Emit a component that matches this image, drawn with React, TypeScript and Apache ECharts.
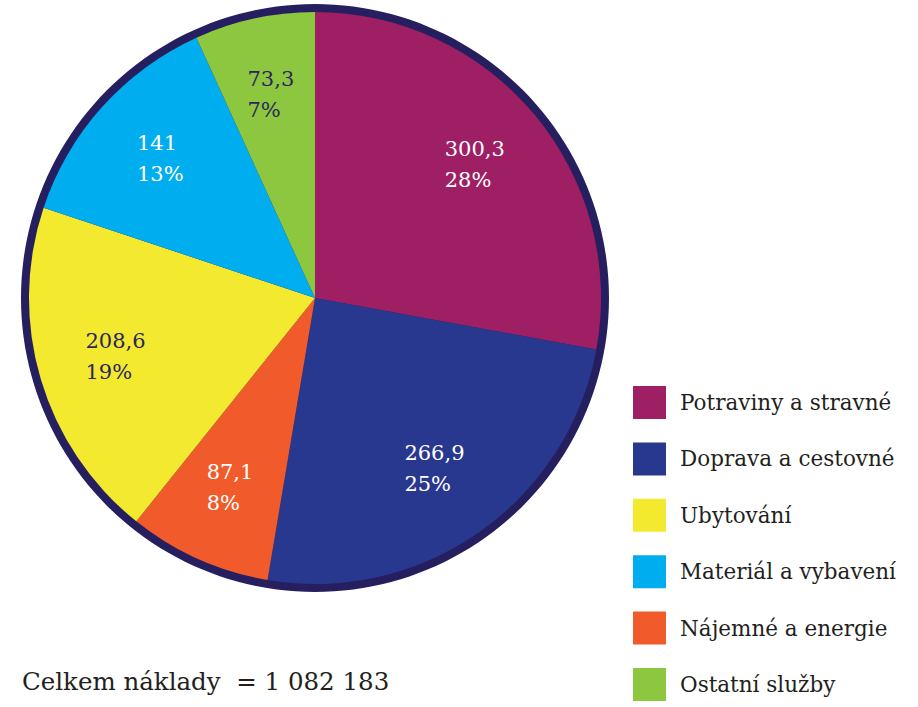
import React, { useEffect, useRef } from "react";
import * as echarts from "echarts";

const categories = [
  "Potraviny a stravné",
  "Doprava a cestovné",
  "Nájemné a energie",
  "Ubytování",
  "Materiál a vybavení",
  "Ostatní služby",
];
const values = [300.3, 266.9, 87.1, 208.6, 141, 73.3];
const colors = ["#9e1f63", "#29388f", "#f15a2a", "#f3ea2f", "#00aeef", "#8dc63f"];
const darkLabel = [false, false, false, true, false, true];
const legendOrder = [
  "Potraviny a stravné",
  "Doprava a cestovné",
  "Ubytování",
  "Materiál a vybavení",
  "Nájemné a energie",
  "Ostatní služby",
];
const totalText = "Celkem náklady  = 1 082 183";

const FONT = "DejaVu Serif";

export default function App() {
  const ref = useRef<HTMLDivElement>(null);
  useEffect(() => {
    if (!ref.current) return;
    const chart = echarts.init(ref.current, null, { renderer: "svg" });
    const center = [315, 298];
    const mainData = categories.map((name, i) => ({
      name,
      value: values[i],
      itemStyle: { color: colors[i] },
    }));
    const labelData = categories.map((name, i) => ({
      name,
      value: values[i],
      itemStyle: { color: "rgba(0,0,0,0)" },
    }));
    chart.setOption({
      animation: false,
      backgroundColor: "#ffffff",
      title: {
        text: totalText,
        left: 17,
        top: 664,
        textStyle: {
          fontFamily: FONT,
          fontWeight: "normal",
          fontSize: 24.5,
          color: "#231f20",
        },
      },
      legend: {
        orient: "vertical",
        left: 633,
        top: 386,
        padding: 0,
        itemWidth: 33,
        itemHeight: 33,
        itemGap: 23.4,
        icon: "rect",
        data: legendOrder,
        selectedMode: false,
        textStyle: {
          fontFamily: FONT,
          fontSize: 21.5,
          color: "#231f20",
          padding: [0, 0, 0, 9],
        },
      },
      series: [
        {
          type: "pie",
          silent: true,
          center,
          radius: 294,
          label: { show: false },
          labelLine: { show: false },
          itemStyle: { color: "#251f5f", borderWidth: 0 },
          data: [{ value: 1, name: "__border" }],
        },
        {
          type: "pie",
          center,
          radius: 286,
          startAngle: 90,
          clockwise: true,
          label: { show: false },
          labelLine: { show: false },
          itemStyle: { borderWidth: 0 },
          emphasis: { disabled: true },
          data: mainData,
        },
        {
          type: "pie",
          silent: true,
          center,
          radius: [124, 286],
          startAngle: 90,
          clockwise: true,
          labelLine: { show: false },
          itemStyle: { borderWidth: 0 },
          emphasis: { disabled: true },
          label: {
            show: true,
            position: "inside",
            formatter: (p: any) => {
              const s = darkLabel[p.dataIndex] ? "d" : "w";
              const v = String(p.value).replace(".", ",");
              return `{${s}|${v}}\n{${s}|${Math.round(p.percent)}%}`;
            },
            rich: {
              w: { align: "left", color: "#ffffff", fontFamily: FONT, fontSize: 21, lineHeight: 31 },
              d: { align: "left", color: "#2b2660", fontFamily: FONT, fontSize: 21, lineHeight: 31 },
            },
          },
          data: labelData,
        },
      ],
    });
    return () => chart.dispose();
  }, []);
  return (
    <div
      ref={ref}
      style={{ position: "absolute", left: 0, top: 0, width: 918, height: 707 }}
    />
  );
}
